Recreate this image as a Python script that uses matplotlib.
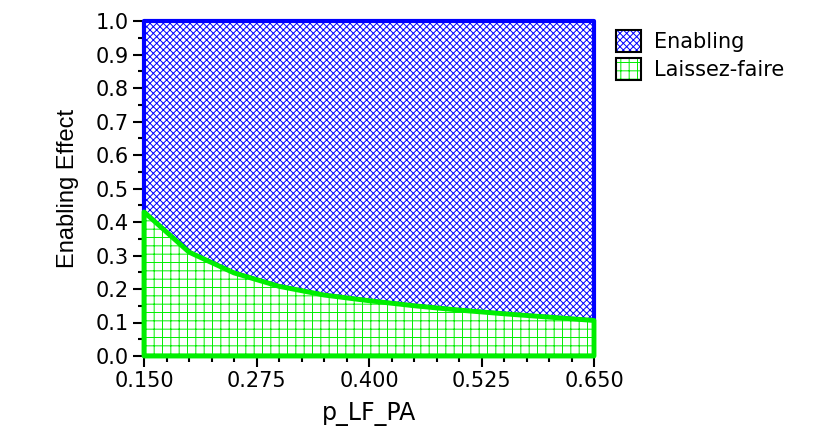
import matplotlib

matplotlib.use("Agg")
import matplotlib.pyplot as plt
from matplotlib.legend_handler import HandlerTuple
from matplotlib.patches import Patch
from matplotlib.ticker import MultipleLocator

# boundary between the two regions
p_lf_pa = [0.150, 0.200, 0.250, 0.300, 0.350, 0.400, 0.450, 0.500, 0.550, 0.600, 0.650]
enabling_effect = [0.430, 0.310, 0.248, 0.208, 0.182, 0.165, 0.150, 0.137, 0.126, 0.116, 0.106]

x_ticks = [0.150, 0.275, 0.400, 0.525, 0.650]
y_ticks = [0.0, 0.1, 0.2, 0.3, 0.4, 0.5, 0.6, 0.7, 0.8, 0.9, 1.0]
series_names = ["Enabling", "Laissez-faire"]

BLUE = "#0000ff"
GREEN = "#00ee00"


def main() -> None:
    plt.rcParams["hatch.linewidth"] = 0.7
    fig = plt.figure(figsize=(8.31, 4.45), dpi=100)
    ax = fig.add_axes([144 / 831, 1 - 356 / 445, 450 / 831, 335 / 445])

    ax.fill_between(p_lf_pa, enabling_effect, 1.0, facecolor="white",
                    edgecolor=BLUE, hatch="xxxxx", linewidth=3, clip_on=False, zorder=2)
    ax.fill_between(p_lf_pa, 0.0, enabling_effect, facecolor="white",
                    edgecolor=GREEN, hatch="++", linewidth=3.5, clip_on=False, zorder=3)

    ax.set_xlim(0.150, 0.650)
    ax.set_ylim(0.0, 1.0)
    ax.set_xticks(x_ticks)
    ax.set_xticklabels([f"{v:.3f}" for v in x_ticks])
    ax.set_yticks(y_ticks)
    ax.set_yticklabels([f"{v:.1f}" for v in y_ticks])
    ax.xaxis.set_minor_locator(MultipleLocator(0.025))
    ax.yaxis.set_minor_locator(MultipleLocator(0.05))
    ax.tick_params(which="major", length=8, width=1.5, direction="out", labelsize=15, pad=3)
    ax.tick_params(which="minor", length=4, width=1.5, direction="out")
    for side in ["top", "right"]:
        ax.spines[side].set_visible(False)
    for side in ["left", "bottom"]:
        ax.spines[side].set_linewidth(1.5)
        ax.spines[side].set_zorder(1)

    ax.set_xlabel("p_LF_PA", fontsize=17, labelpad=8)
    ax.set_ylabel("Enabling Effect", fontsize=17, labelpad=12, family="Liberation Sans")

    handles = [
        (Patch(facecolor="white", edgecolor=BLUE, hatch="xxxxx", linewidth=0),
         Patch(fill=False, edgecolor="black", linewidth=1.5)),
        (Patch(facecolor="white", edgecolor=GREEN, hatch="++", linewidth=0),
         Patch(fill=False, edgecolor="black", linewidth=1.5)),
    ]
    fig.legend(handles, series_names, loc="upper left", bbox_to_anchor=(608 / 831, 1 - 22 / 445),
               frameon=False, fontsize=15, handlelength=1.2, handleheight=1.2,
               handletextpad=0.6, labelspacing=0.3, borderaxespad=0,
               handler_map={tuple: HandlerTuple(ndivide=1, pad=0)})

    fig.savefig("out.png", dpi=100)
    plt.close(fig)


if __name__ == "__main__":
    main()
